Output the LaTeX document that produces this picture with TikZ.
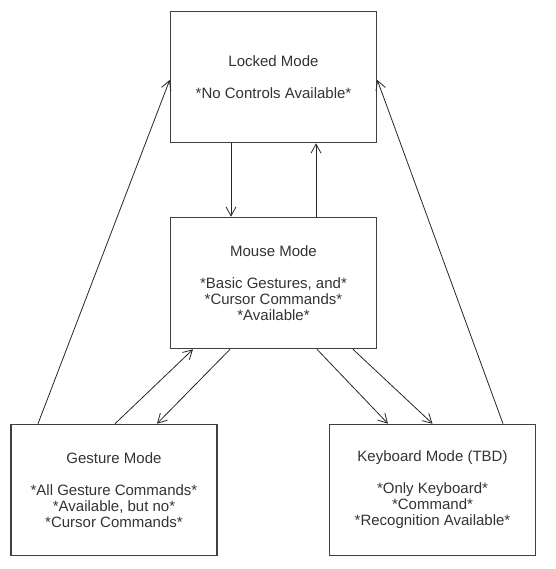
\documentclass[tikz,border=0pt]{standalone}
\usepackage{fontspec}
\setmainfont{Liberation Sans}
\usetikzlibrary{positioning, arrows.meta}
\usepackage{xcolor}

\begin{document}
\begin{tikzpicture}[
    x=1pt, y=-1pt,
    mode/.style={rectangle, draw=black!75, line width=1.6pt, minimum width=206pt, minimum height=131pt,
        align=center, text=black!80, font=\fontsize{15}{16}\selectfont},
    link/.style={-{Straight Barb[length=9pt, width=10pt]}, line width=0.8pt, black!85}
]
\useasboundingbox (0,0) rectangle (555,569);

\node[mode] (locked) at (273.5,77) {Locked Mode\\[16pt]*No Controls Available*};
\node[mode] (mouse) at (273.5,283) {Mouse Mode\\[16pt]*Basic Gestures, and*\\*Cursor Commands*\\*Available*};
\node[mode] (gesture) at (114,490) {Gesture Mode\\[16pt]*All Gesture Commands*\\*Available, but no*\\*Cursor Commands*};
\node[mode] (keyboard) at (432.5,490) {Keyboard Mode (TBD)\\[16pt]*Only Keyboard*\\*Command*\\*Recognition Available*};

% locked <-> mouse
\draw[link] ([xshift=-42.5pt]locked.south) -- ([xshift=-42.5pt]mouse.north);
\draw[link] ([xshift=42.5pt]mouse.north) -- ([xshift=42.5pt]locked.south);

% mouse <-> gesture
\draw[link] ([xshift=1pt]gesture.north) -- ([xshift=-80.5pt]mouse.south);
\draw[link] ([xshift=-43.5pt]mouse.south) -- ([xshift=43pt]gesture.north);

% mouse -> keyboard
\draw[link] ([xshift=43.5pt]mouse.south) -- ([xshift=-44.5pt]keyboard.north);
\draw[link] ([xshift=79.5pt]mouse.south) -- (keyboard.north);

% back to locked
\draw[link] ([xshift=-76pt]gesture.north) -- ([yshift=-3pt]locked.west);
\draw[link] ([xshift=70.5pt]keyboard.north) -- ([yshift=-3pt]locked.east);

\end{tikzpicture}
\end{document}
